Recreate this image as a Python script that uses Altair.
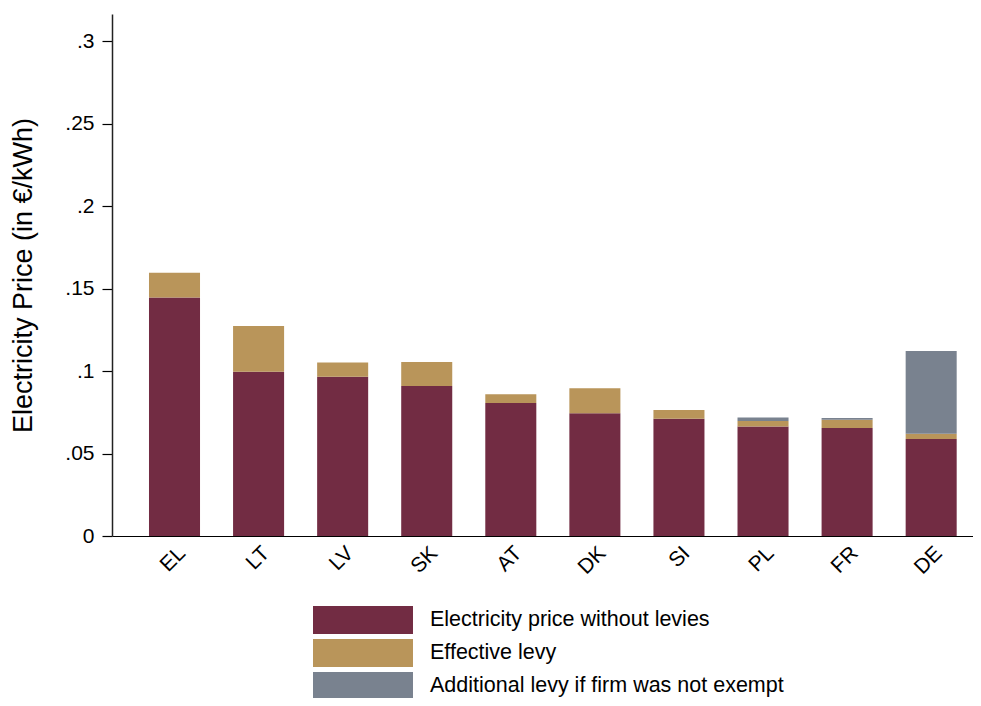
import altair as alt
import pandas as pd

countries = ["EL", "LT", "LV", "SK", "AT", "DK", "SI", "PL", "FR", "DE"]
price_without_levies = [0.1446, 0.0996, 0.0966, 0.0909, 0.0806, 0.0744, 0.0711, 0.0663, 0.0655, 0.0588]
effective_levy = [0.0150, 0.0277, 0.0086, 0.0146, 0.0053, 0.0151, 0.0053, 0.0034, 0.0050, 0.0032]
additional_levy = [0.0, 0.0, 0.0, 0.0, 0.0, 0.0, 0.0, 0.0022, 0.0010, 0.0501]

series_names = [
    "Electricity price without levies",
    "Effective levy",
    "Additional levy if firm was not exempt",
]
series_colors = ["#722C43", "#B9955A", "#79828F"]
y_ticks = [0, 0.05, 0.1, 0.15, 0.2, 0.25, 0.3]

rows = []
for i, c in enumerate(countries):
    for k, (name, vals) in enumerate(zip(series_names, [price_without_levies, effective_levy, additional_levy])):
        rows.append({"country": c, "series": name, "value": vals[i], "order": k})
df = pd.DataFrame(rows)

FONT = "Liberation Sans"

chart = (
    alt.Chart(df)
    .mark_bar()
    .encode(
        x=alt.X(
            "country:N",
            sort=countries,
            title=None,
            scale=alt.Scale(paddingInner=0.393, paddingOuter=0.317, align=0.694),
            axis=alt.Axis(
                labelAngle=-45,
                ticks=False,
                labelFontSize=21,
                labelFont=FONT,
                labelColor="#000000",
                labelPadding=6,
                domainColor="#000000",
                domainWidth=1.2,
            ),
        ),
        y=alt.Y(
            "value:Q",
            stack="zero",
            title="Electricity Price (in €/kWh)",
            scale=alt.Scale(domain=[0, 0.3164], nice=False, zero=True),
            axis=alt.Axis(
                values=y_ticks,
                labelExpr="datum.value == 0 ? '0' : substring(format(datum.value, '.2~f'), 1)",
                grid=False,
                tickSize=10,
                tickColor="#000000",
                tickWidth=1.2,
                domainColor="#222222",
                domainWidth=1.5,
                labelFontSize=21,
                labelFont=FONT,
                labelColor="#000000",
                labelPadding=8,
                titleFontSize=27,
                titleFont=FONT,
                titleFontWeight="normal",
                titleColor="#000000",
                titlePadding=27,
            ),
        ),
        color=alt.Color(
            "series:N",
            scale=alt.Scale(domain=series_names, range=series_colors),
            legend=alt.Legend(
                title=None,
                orient="none",
                legendX=237,
                legendY=592,
                direction="vertical",
                symbolType="M-3.571,-1H3.571V1H-3.571Z",
                symbolSize=784,
                symbolStrokeWidth=0,
                symbolOpacity=1,
                labelFontSize=21.5,
                labelFont=FONT,
                labelColor="#000000",
                labelOffset=53,
                rowPadding=5,
                padding=0,
                labelLimit=600,
            ),
        ),
        order=alt.Order("order:Q"),
    )
    .properties(
        width=861,
        height=522,
        autosize=alt.AutoSizeParams(type="none"),
        padding={"left": 104, "top": 6, "right": 0, "bottom": 162},
    )
    .configure_view(stroke=None)
)

chart.save("out.html", embed_options={"renderer": "svg", "actions": False})
